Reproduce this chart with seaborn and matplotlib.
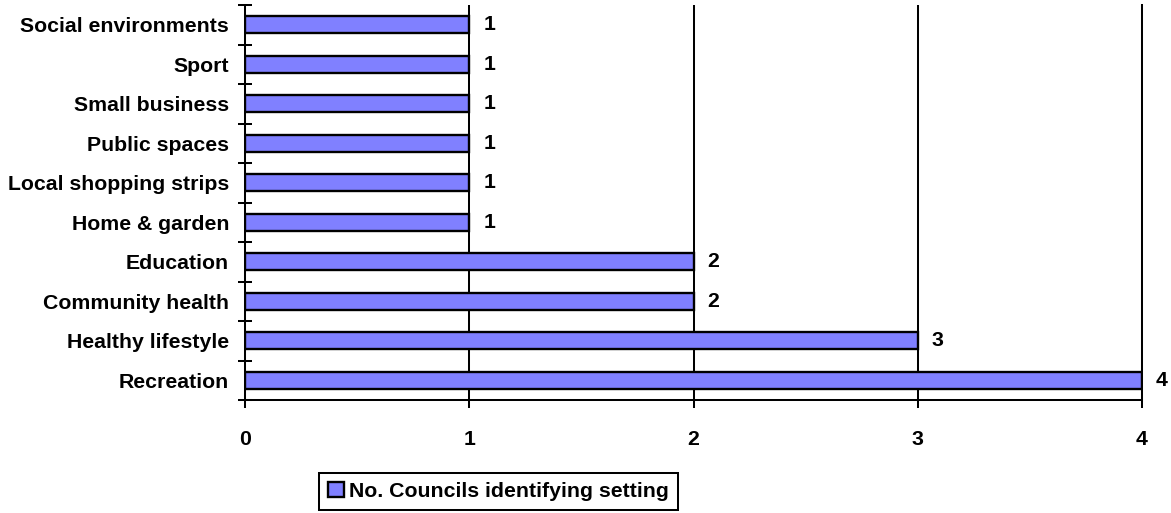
import matplotlib
matplotlib.use("Agg")
import matplotlib.pyplot as plt
import seaborn as sns
import pandas as pd
import numpy as np

categories = ["Social environments", "Sport", "Small business", "Public spaces",
              "Local shopping strips", "Home & garden", "Education",
              "Community health", "Healthy lifestyle", "Recreation"]
values = [1, 1, 1, 1, 1, 1, 2, 2, 3, 4]
series_name = "No. Councils identifying setting"
x_ticks = [0, 1, 2, 3, 4]

sns.set_theme(style="white")
plt.rcParams['font.family'] = ['Liberation Sans', 'DejaVu Sans']
plt.rcParams['font.weight'] = 'bold'
plt.rcParams['text.color'] = 'black'
plt.rcParams['xtick.color'] = 'black'
plt.rcParams['ytick.color'] = 'black'
plt.rcParams['axes.labelcolor'] = 'black'

FS = 15.3
LW = 1.45

df = pd.DataFrame({"Setting": categories, "Count": values, "Series": series_name})

fig = plt.figure(figsize=(11.71, 5.13), dpi=100)
ax = fig.add_axes([245/1171, 1 - 400/513, (1142 - 245)/1171, (400 - 5)/513])

sns.barplot(data=df, x="Count", y="Setting", hue="Series", orient="h",
            palette={series_name: "#8080FF"}, saturation=1, edgecolor="black", linewidth=1.7,
            width=0.42, dodge=False, ax=ax, legend=True)

handles, labels = ax.get_legend_handles_labels()
ax.get_legend().remove()

ax.set_xlim(0, 4)
ax.set_ylim(9.5, -0.5)
ax.set_xlabel("")
ax.set_ylabel("")
ax.set_xticks(x_ticks)
ax.set_xticklabels([str(t) for t in x_ticks], fontsize=FS, fontweight='bold', color='black')
ax.tick_params(axis='x', direction='out', length=5.5, width=LW, color='black', pad=16, bottom=True)
ax.tick_params(axis='y', which='major', length=0, pad=11.5, labelsize=FS)
for lab in ax.get_yticklabels():
    lab.set_fontweight('bold')
    lab.set_color('black')
ax.set_yticks(np.arange(-0.5, 10, 1), minor=True)
ax.tick_params(axis='y', which='minor', direction='inout', length=10, width=LW, color='black', left=True)

ax.set_axisbelow(True)
ax.xaxis.grid(True, color='black', linewidth=LW)
ax.yaxis.grid(False)
for s in ["left", "bottom", "right"]:
    ax.spines[s].set_visible(True)
    ax.spines[s].set_color('black')
    ax.spines[s].set_linewidth(LW)
ax.spines["top"].set_visible(False)

for i, v in enumerate(values):
    ax.annotate(str(v), xy=(v, i), xytext=(10, 0), textcoords='offset points',
                va='center', ha='left', fontsize=FS, fontweight='bold', color='black',
                annotation_clip=False)

leg = fig.legend(handles, labels, loc='center', bbox_to_anchor=(498.5/1171, 1 - 491.5/513),
                 frameon=True, fancybox=False, shadow=False, framealpha=1,
                 edgecolor='black', fontsize=FS, handlelength=0.75, handleheight=0.75,
                 handletextpad=0.25, borderpad=0.4, borderaxespad=0)
leg.get_frame().set_linewidth(LW)
for t in leg.get_texts():
    t.set_fontweight('bold')
    t.set_color('black')

fig.savefig("out.png", dpi=100)
